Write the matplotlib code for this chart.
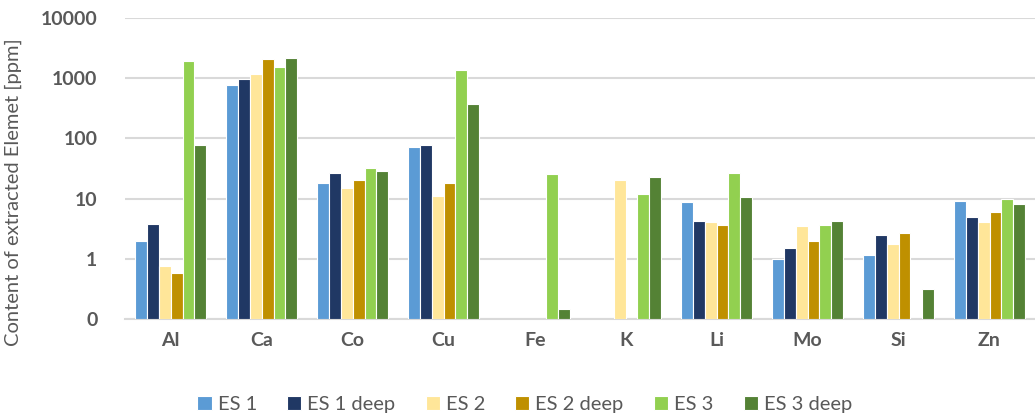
import numpy as np
import matplotlib.pyplot as plt
from matplotlib.ticker import FixedLocator, FixedFormatter

plt.rcParams['font.family'] = ['Lato', 'DejaVu Sans']

elements = ['Al', 'Ca', 'Co', 'Cu', 'Fe', 'K', 'Li', 'Mo', 'Si', 'Zn']
series = ['ES 1', 'ES 1 deep', 'ES 2', 'ES 2 deep', 'ES 3', 'ES 3 deep']
colors = ['#5B9BD5', '#203864', '#FFE699', '#BF9000', '#92D050', '#548235']

nan = np.nan
es1      = [2.0, 780, 18, 72, nan, nan, 8.9, 1.0, 1.15, 9.2]
es1_deep = [3.8, 960, 26.5, 79, nan, nan, 4.2, 1.5, 2.45, 4.9]
es2      = [0.76, 1170, 15.2, 10.9, nan, 20, 4.1, 3.5, 1.75, 4.05]
es2_deep = [0.58, 2050, 20, 18, nan, nan, 3.6, 1.95, 2.7, 5.9]
es3      = [1900, 1560, 32, 1380, 26, 11.8, 27, 3.65, nan, 9.8]
es3_deep = [79, 2150, 28.5, 370, 0.145, 23, 10.8, 4.3, 0.314, 8.2]
data = [es1, es1_deep, es2, es2_deep, es3, es3_deep]

ymin, ymax = 0.1, 10000
yticks = [0.1, 1, 10, 100, 1000, 10000]
ylabels = ['0', '1', '10', '100', '1000', '10000']

fig = plt.figure(figsize=(10.35, 4.17), dpi=100)
ax = fig.add_axes([0.121, 0.235, 0.879, 0.722])

x = np.arange(len(elements))
w = 0.13
for i, (vals, c, name) in enumerate(zip(data, colors, series)):
    v = np.array(vals, dtype=float)
    ax.bar(x + (i - 2.5) * w, v - ymin, bottom=ymin, width=w, color=c,
           edgecolor='white', linewidth=0.8, label=name, zorder=3)

ax.set_yscale('log')
ax.set_ylim(ymin, ymax)
ax.set_xlim(-0.5, len(elements) - 0.5)
ax.yaxis.set_major_locator(FixedLocator(yticks))
ax.yaxis.set_major_formatter(FixedFormatter(ylabels))
ax.yaxis.set_minor_locator(FixedLocator([]))
ax.set_xticks(x)
ax.set_xticklabels(elements)
ax.grid(axis='y', color='#D9D9D9', linewidth=1.5, zorder=0)
for s in ['top', 'right', 'left']:
    ax.spines[s].set_visible(False)
ax.spines['bottom'].set_color('#D9D9D9')
ax.spines['bottom'].set_linewidth(1.5)
ax.tick_params(length=0, labelcolor='#595959', labelsize=14)
for t in ax.get_xticklabels() + ax.get_yticklabels():
    t.set_fontweight('bold')
ax.tick_params(axis='y', pad=20)
ax.tick_params(axis='x', pad=9)
ax.set_ylabel('Content of extracted Elemet [ppm]', fontsize=14.5, color='#595959')
ax.yaxis.set_label_coords(-0.113, 0.42)

fig.legend(loc='lower center', ncol=6, frameon=False, fontsize=14.5,
           bbox_to_anchor=(0.507, -0.035), handlelength=0.7, handleheight=0.7,
           columnspacing=1.5, handletextpad=0.3, labelcolor='#595959')

fig.savefig('out.png', dpi=100)
